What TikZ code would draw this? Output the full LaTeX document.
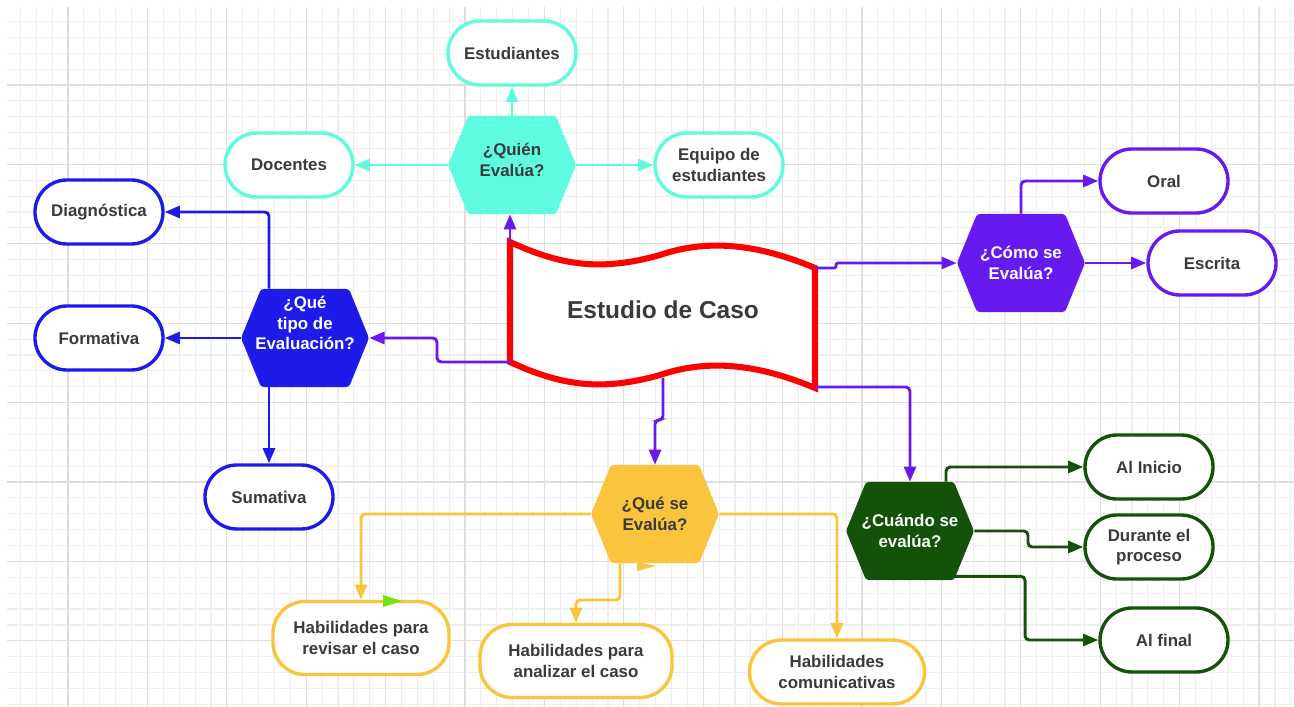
\documentclass[tikz,border=0pt]{standalone}
\usepackage{fontspec}
\setmainfont{Liberation Sans}
\usetikzlibrary{arrows.meta}

\definecolor{aqua}{RGB}{95,251,222}
\definecolor{violeta}{RGB}{102,26,240}
\definecolor{azul}{RGB}{30,27,234}
\definecolor{amarillo}{RGB}{250,196,60}
\definecolor{verde}{RGB}{20,82,10}
\definecolor{lima}{RGB}{120,225,20}
\definecolor{texto}{RGB}{58,58,58}
\definecolor{gridmin}{RGB}{238,238,238}
\definecolor{gridmaj}{RGB}{222,222,222}

\tikzset{
    caja/.style={draw=#1, line width=2.4pt, fill=white, rounded corners=0.8cm,
        minimum width=3.2cm, minimum height=1.6cm, align=center, text=texto,
        font=\fontsize{12}{14.6}\selectfont\bfseries},
    hexa/.style={rectangle, minimum width=3.2cm, minimum height=2.45cm,
        inner sep=0pt, align=center, text=white,
        font=\fontsize{12}{14.6}\selectfont\bfseries,
        path picture={\fill[#1,rounded corners=2pt]
            (path picture bounding box.west)
            -- ([xshift=0.5cm]path picture bounding box.north west)
            -- ([xshift=-0.5cm]path picture bounding box.north east)
            -- (path picture bounding box.east)
            -- ([xshift=-0.5cm]path picture bounding box.south east)
            -- ([xshift=0.5cm]path picture bounding box.south west) -- cycle;}},
    flecha/.style={draw=#1, line width=2.1pt, rounded corners=3pt,
        -{Triangle[length=0.38cm,width=0.3cm]}},
}

\begin{document}
\begin{tikzpicture}[x=0.025cm,y=-0.025cm]
    \useasboundingbox (0,0) rectangle (1294,707);
    %draw grid
    \foreach \k in {0,...,80}
        {%
            \draw[gridmin,line width=0.8pt] ({20.4+15.88*\k},7) -- ({20.4+15.88*\k},707);
        }
    \foreach \k in {0,...,43}
        {%
            \draw[gridmin,line width=0.8pt] (7,{21.5+15.88*\k}) -- (1294,{21.5+15.88*\k});
        }
    \foreach \k in {0,...,15}
        {%
            \draw[gridmaj,line width=0.8pt] ({68+79.4*\k},7) -- ({68+79.4*\k},707);
        }
    \foreach \k in {0,...,7}
        {%
            \draw[gridmaj,line width=0.8pt] (7,{85+79.4*\k}) -- (1294,{85+79.4*\k});
        }

    %draw central banner
    \draw[red,line width=4.3pt,fill=white,line join=miter]
        (510,242) .. controls (560,265) and (600,272) .. (660,255)
        .. controls (710,238) and (760,245) .. (815,268) -- (815,388)
        .. controls (760,365) and (710,358) .. (660,375)
        .. controls (600,392) and (560,385) .. (510,362) -- cycle;
    \node[text=texto,font=\fontsize{17.4}{20}\selectfont\bfseries] (caso) at (663,310) {Estudio de Caso};
    \coordinate (caso-tl) at (510,242);
    \coordinate (caso-bl) at (510,362);
    \coordinate (caso-tr) at (815,268);
    \coordinate (caso-br) at (815,387);
    \coordinate (caso-b) at (663,378);

    %draw questions
    \node[hexa=aqua,text=texto,text depth=0.25cm] (quien) at (512,165) {¿Quién\\Evalúa?};
    \node[hexa=violeta] (como) at (1021,263) {¿Cómo se\\Evalúa?};
    \node[hexa=azul,text depth=0.75cm] (tipo) at (305,338) {¿Qué\\tipo de\\Evaluación?};
    \node[hexa=amarillo,text=texto] (quese) at (655,514) {¿Qué se\\Evalúa?};
    \node[hexa=verde] (cuando) at (910,531) {¿Cuándo se\\evalúa?};

    %draw answers
    \node[caja=aqua] (estud) at (512,53) {Estudiantes};
    \node[caja=aqua] (docen) at (289,165) {Docentes};
    \node[caja=aqua] (equipo) at (719,165) {Equipo de\\estudiantes};
    \node[caja=violeta] (oral) at (1164,181) {Oral};
    \node[caja=violeta] (escrita) at (1212,263) {Escrita};
    \node[caja=azul] (diag) at (99,212) {Diagnóstica};
    \node[caja=azul] (formativa) at (99,338) {Formativa};
    \node[caja=azul] (sumativa) at (269,497) {Sumativa};
    \node[caja=amarillo,minimum width=4.4cm,minimum height=1.825cm] (revisar) at (361,638) {Habilidades para\\revisar el caso};
    \node[caja=amarillo,minimum width=4.8cm,minimum height=1.825cm] (analizar) at (576,661) {Habilidades para\\analizar el caso};
    \node[caja=amarillo,minimum width=4.375cm] (comunic) at (837,672) {Habilidades\\comunicativas};
    \node[caja=verde] (inicio) at (1149,467) {Al Inicio};
    \node[caja=verde] (durante) at (1149,547) {Durante el\\proceso};
    \node[caja=verde] (final) at (1164,640) {Al final};

    %draw lines
    \draw[flecha=violeta] (caso-tl) -- (caso-tl |- quien.south);
    \draw[flecha=violeta] (caso-bl) -- (437,362) |- (tipo.east);
    \draw[flecha=violeta] (caso-b) -- (663,420) -| (quese.north);
    \draw[flecha=violeta] (caso-br) -| (cuando.north);
    \draw[flecha=violeta,rounded corners=1pt] (caso-tr) -- (836,268) |- (como.west);

    \draw[flecha=aqua] (quien.north) -- (estud.south);
    \draw[flecha=aqua] (quien.west) -- (docen.east);
    \draw[flecha=aqua] (quien.east) -- (equipo.west);

    \draw[flecha=violeta] (como.north) |- (oral.west);
    \draw[flecha=violeta] (como.east) -- (escrita.west);

    \draw[flecha=azul] (tipo.north -| sumativa.north) |- (diag.east);
    \draw[flecha=azul] (tipo.west) -- (formativa.east);
    \draw[flecha=azul] (tipo.south -| sumativa.north) -- (sumativa.north);

    \draw[flecha=amarillo] (quese.west) -| (revisar.north);
    \draw[flecha=amarillo] ([xshift=-0.875cm]quese.south) -- (620,600) -| (analizar.north);
    \draw[flecha=amarillo] (quese.east) -| (comunic.north);

    \draw[flecha=verde] ([xshift=0.9cm]cuando.north) |- (inicio.west);
    \draw[flecha=verde] (cuando.east) -- (1028,531) |- (durante.west);
    \draw[flecha=verde] ([xshift=1cm,yshift=0.1cm]cuando.south) -- ++(75,0) |- (final.west);

    %stray tips
    \fill[lima] (383,595) -- (402,601) -- (383,607) -- cycle;
    \fill[amarillo] (637,562) -- (656,566) -- (637,571) -- cycle;
\end{tikzpicture}
\end{document}
